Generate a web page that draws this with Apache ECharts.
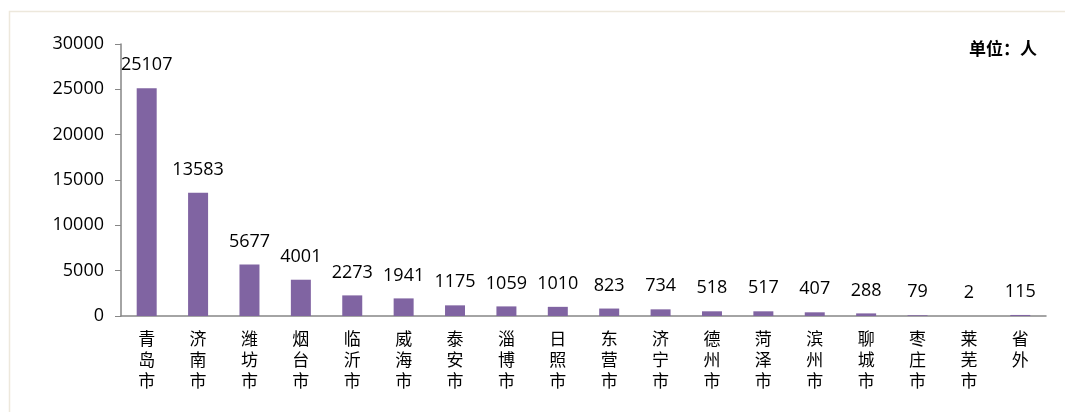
<!DOCTYPE html>
<html>
<head>
<meta charset="utf-8">
<script src="https://cdn.jsdelivr.net/npm/echarts@6/dist/echarts.min.js"></script>
<style>
  html, body { margin: 0; padding: 0; background: #fff; }
  #main { width: 1065px; height: 412px; }
</style>
</head>
<body>
<div id="main"></div>
<script>
// 城市
const cities = ["青岛市", "济南市", "潍坊市", "烟台市", "临沂市", "威海市", "泰安市", "淄博市", "日照市",
  "东营市", "济宁市", "德州市", "菏泽市", "滨州市", "聊城市", "枣庄市", "莱芜市", "省外"]
// 人数
const people = [25107, 13583, 5677, 4001, 2273, 1941, 1175, 1059, 1010, 823, 734, 518, 517, 407, 288, 79, 2, 115]

let myChart = echarts.init(document.getElementById("main"))

myChart.setOption({
  animation: false,
  grid: { left: 121, right: 19, top: 44, bottom: 96 },
  graphic: [
    {
      type: "rect",
      shape: { x: 9.5, y: 11.5, width: 1080, height: 420 },
      style: { fill: "none", stroke: "#ede8dc", lineWidth: 1.5 },
    },
    {
      type: "text",
      right: 28,
      top: 40,
      style: { text: "单位：人", font: "bold 17px 'Noto Sans CJK SC'", fill: "#000" },
    },
  ],
  xAxis: {
    type: "category",
    data: cities,
    axisLine: { lineStyle: { color: "#868686", width: 1.5 } },
    axisTick: { alignWithLabel: false, length: 6, lineStyle: { color: "#868686" } },
    axisLabel: {
      interval: 0,
      margin: 12,
      color: "#000",
      fontSize: 17,
      lineHeight: 21,
      fontFamily: "Noto Sans CJK SC",
      formatter: (v) => v.split("").join("\n"), // 竖排文字
    },
  },
  yAxis: {
    type: "value",
    min: 0,
    max: 30000,
    interval: 5000,
    splitLine: { show: false },
    axisLine: { show: true, lineStyle: { color: "#868686", width: 1.5 } },
    axisTick: { show: true, inside: false, length: 6, lineStyle: { color: "#868686" } },
    axisLabel: { color: "#000", fontSize: 18, margin: 17, fontFamily: "Open Sans", formatter: (v) => String(v) },
  },
  series: [
    {
      type: "bar",
      data: people,
      barWidth: 20,
      itemStyle: { color: "#8064a2" },
      label: {
        show: true,
        position: "top",
        distance: 14,
        color: "#000",
        fontSize: 18,
        fontFamily: "Open Sans",
      },
    },
  ],
})
</script>
</body>
</html>
